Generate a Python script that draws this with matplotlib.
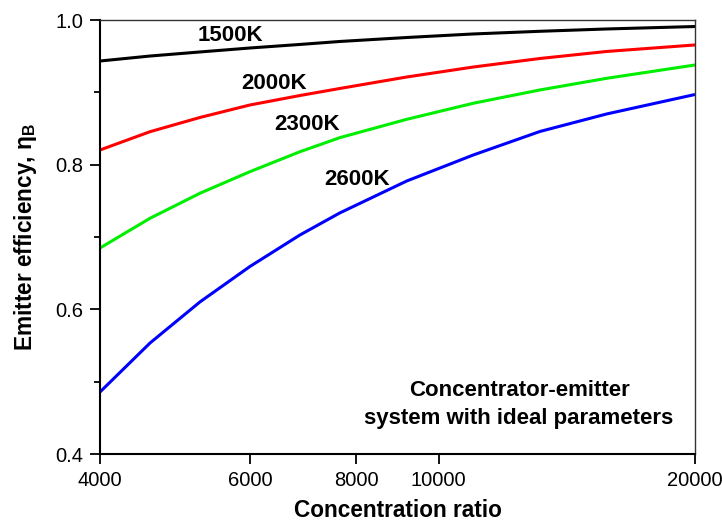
import matplotlib
matplotlib.use("Agg")
import matplotlib.pyplot as plt
from matplotlib.ticker import FixedLocator, NullLocator, FixedFormatter

plt.rcParams['font.family'] = ['Liberation Sans', 'DejaVu Sans']
plt.rcParams['mathtext.fontset'] = 'custom'
plt.rcParams['mathtext.rm'] = 'Liberation Sans:bold'
plt.rcParams['mathtext.it'] = 'Liberation Sans:bold'
plt.rcParams['mathtext.bf'] = 'Liberation Sans:bold'

# Data
conc = [4000, 4580, 5240, 6000, 6870, 7650, 9170, 10980, 13150, 15750, 20000]
eta_1500 = [0.9433, 0.9502, 0.9558, 0.9613, 0.9662, 0.9703, 0.9758, 0.9807, 0.9844, 0.9876, 0.9910]
eta_2000 = [0.8203, 0.8456, 0.8652, 0.8825, 0.8956, 0.9053, 0.9212, 0.9350, 0.9468, 0.9565, 0.9655]
eta_2300 = [0.6848, 0.7259, 0.7604, 0.7903, 0.8179, 0.8373, 0.8627, 0.8849, 0.9033, 0.9194, 0.9378]
eta_2600 = [0.4857, 0.5535, 0.6101, 0.6592, 0.7028, 0.7332, 0.7774, 0.8134, 0.8459, 0.8701, 0.8970]

series = [
    ("1500K", eta_1500, "#000000", (5700, 0.978)),
    ("2000K", eta_2000, "#ff0000", (6400, 0.912)),
    ("2300K", eta_2300, "#00ee00", (7000, 0.856)),
    ("2600K", eta_2600, "#0000ff", (8015, 0.780)),
]

x_ticks = [4000, 6000, 8000, 10000, 20000]
x_ticklabels = ["4000", "6000", "8000", "10000", "20000"]
y_major = [0.4, 0.6, 0.8, 1.0]
y_minor = [0.5, 0.7, 0.9]

fig = plt.figure(figsize=(7.22, 5.24), dpi=100)
ax = fig.add_axes([100/722, 1-454/524, 595/722, 434/524])

for label, vals, col, pos in series:
    ax.plot(conc, vals, color=col, lw=2.2, solid_capstyle='butt',
            solid_joinstyle='round')
    ax.text(pos[0], pos[1], label, fontsize=16, fontweight='bold',
            ha='center', va='center')

ax.set_xscale('log')
ax.set_xlim(4000, 20000)
ax.set_ylim(0.4, 1.0)

ax.xaxis.set_major_locator(FixedLocator(x_ticks))
ax.xaxis.set_major_formatter(FixedFormatter(x_ticklabels))
ax.xaxis.set_minor_locator(NullLocator())
ax.yaxis.set_major_locator(FixedLocator(y_major))
ax.yaxis.set_minor_locator(FixedLocator(y_minor))
ax.set_yticklabels([f"{v:.1f}" for v in y_major])

ax.tick_params(axis='both', which='major', direction='out', length=7, width=1.3,
               labelsize=14.5, pad=5)
ax.tick_params(axis='y', which='minor', direction='out', length=4, width=1.3)
ax.tick_params(top=False, right=False)

for s in ['left', 'bottom']:
    ax.spines[s].set_linewidth(1.5)
for s in ['top', 'right']:
    ax.spines[s].set_linewidth(1.0)
    ax.spines[s].set_color('#333333')

ax.set_xlabel("Concentration ratio", fontsize=16.3, fontweight='bold', labelpad=7)
ax.set_ylabel(r"Emitter efficiency, $\eta_\mathrm{B}$", fontsize=16.3,
              fontweight='bold', labelpad=12)

ax.text(12425, 0.468, "Concentrator-emitter\nsystem with ideal parameters",
        fontsize=16, fontweight='bold', ha='center', va='center',
        linespacing=1.45)

fig.savefig("out.png", dpi=100)
